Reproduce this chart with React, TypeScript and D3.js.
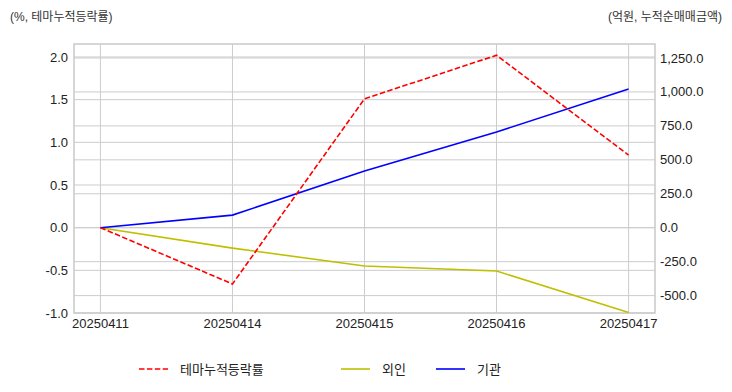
import React from "react";
import * as d3 from "d3";

const dates = ["20250411", "20250414", "20250415", "20250416", "20250417"];
const themeRate = [0, -0.66, 1.51, 2.02, 0.85];
const foreign = [0, -150, -282, -319, -625];
const institution = [0, 93, 417, 705, 1022];
const leftTicks = [-1, -0.5, 0, 0.5, 1, 1.5, 2];
const rightTicks = [-500, -250, 0, 250, 500, 750, 1000, 1250];

const W = 732;
const H = 392;
const margin = { left: 74, right: 77, top: 44, bottom: 79 };
const FONT = "'Liberation Sans', Arial, 'Noto Sans CJK KR', sans-serif";

export default function App() {
  const innerW = W - margin.left - margin.right;
  const innerH = H - margin.top - margin.bottom;

  const x = d3.scalePoint<string>().domain(dates).range([0, innerW]).padding(0.2);
  const yL = d3.scaleLinear().domain([-1, 2.152]).range([innerH, 0]);
  const yR = d3.scaleLinear().domain([-628, 1353]).range([innerH, 0]);

  const lineL = d3
    .line<number>()
    .x((_, i) => x(dates[i]) as number)
    .y((d) => yL(d));
  const lineR = d3
    .line<number>()
    .x((_, i) => x(dates[i]) as number)
    .y((d) => yR(d));

  // d3 기본 마이너스(−) 대신 하이픈 사용
  const fmtL = (v: number) => d3.format(".1f")(v).replace("\u2212", "-");
  const fmtR = (v: number) => d3.format(",.1f")(v).replace("\u2212", "-");
  const grid = "#cccccc";

  const legend = [
    { label: "테마누적등락률", color: "#ff0000", dash: "5.5,2.4", x: 139 },
    { label: "외인", color: "#bfbf00", dash: undefined, x: 341 },
    { label: "기관", color: "#0000ff", dash: undefined, x: 436 },
  ];

  return (
    <svg
      width={W}
      height={H}
      style={{ position: "absolute", left: 0, top: 0, background: "#fff" }}
      fontFamily={FONT}
    >
      <text x={10} y={21} fontSize={12} fill="#333">
        (%, 테마누적등락률)
      </text>
      <text x={722} y={21} fontSize={12} fill="#333" textAnchor="end">
        (억원, 누적순매매금액)
      </text>

      <g transform={`translate(${margin.left},${margin.top})`}>
        {/* 좌측/우측 축 그리드 */}
        {leftTicks.map((t) => (
          <line key={"gl" + t} x1={0} x2={innerW} y1={yL(t)} y2={yL(t)} stroke={grid} strokeWidth={1} />
        ))}
        {rightTicks.map((t) => (
          <line key={"gr" + t} x1={0} x2={innerW} y1={yR(t)} y2={yR(t)} stroke={grid} strokeWidth={1} />
        ))}
        {dates.map((d) => (
          <line key={"gx" + d} x1={x(d)} x2={x(d)} y1={0} y2={innerH} stroke={grid} strokeWidth={1} />
        ))}
        <rect width={innerW} height={innerH} fill="none" stroke={grid} strokeWidth={1.6} />

        {leftTicks.map((t) => (
          <text key={"tl" + t} x={-6} y={yL(t)} dy="0.35em" textAnchor="end" fontSize={13} fill="#222">
            {fmtL(t)}
          </text>
        ))}
        {rightTicks.map((t) => (
          <text key={"tr" + t} x={innerW + 5} y={yR(t)} dy="0.35em" fontSize={13} fill="#222">
            {fmtR(t)}
          </text>
        ))}
        {dates.map((d) => (
          <text key={"tx" + d} x={x(d)} y={innerH + 15} textAnchor="middle" fontSize={13} fill="#222">
            {d}
          </text>
        ))}

        <path d={lineR(foreign) || ""} fill="none" stroke="#bfbf00" strokeWidth={1.6} />
        <path d={lineR(institution) || ""} fill="none" stroke="#0000ff" strokeWidth={1.6} />
        <path d={lineL(themeRate) || ""} fill="none" stroke="#ff0000" strokeWidth={1.6} strokeDasharray="5.5,2.4" />
      </g>

      {legend.map((l) => (
        <g key={l.label} transform={`translate(${l.x},369)`}>
          <line x1={0} x2={29} y1={0} y2={0} stroke={l.color} strokeWidth={1.6} strokeDasharray={l.dash} />
          <text x={41} y={0} dy="0.35em" fontSize={13} fill="#222">
            {l.label}
          </text>
        </g>
      ))}
    </svg>
  );
}
